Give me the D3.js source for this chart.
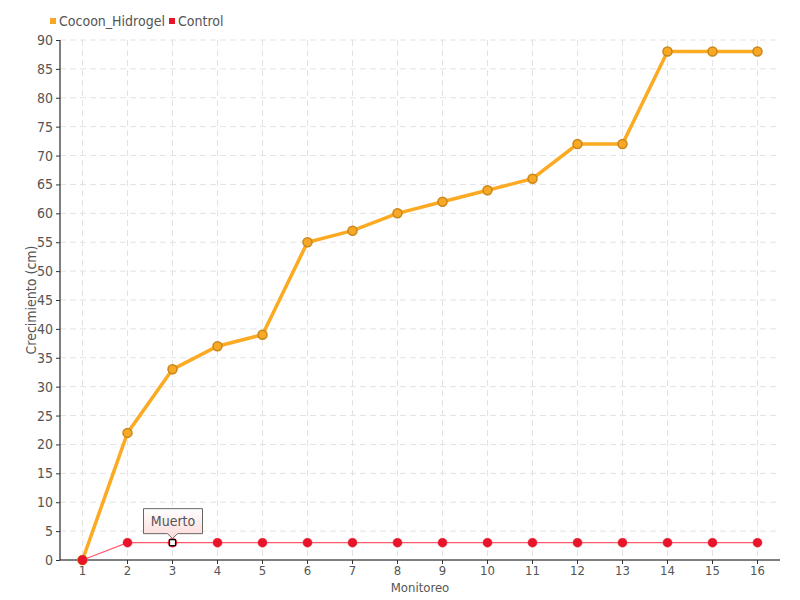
<!DOCTYPE html>
<html><head><meta charset="utf-8">
<script src="https://cdn.jsdelivr.net/npm/d3@7"></script>
<style>
body{margin:0;background:#fff;}
text{font-family:"DejaVu Sans Condensed","DejaVu Sans",sans-serif;font-stretch:condensed;}
</style></head>
<body><svg id="c" width="800" height="600"></svg>
<script>
const categories = ["1","2","3","4","5","6","7","8","9","10","11","12","13","14","15","16"];
const cocoon = [0,22,33,37,39,55,57,60,62,64,66,72,72,88,88,88];
const control = [0,3,3,3,3,3,3,3,3,3,3,3,3,3,3,3];
const yTicks = [0,5,10,15,20,25,30,35,40,45,50,55,60,65,70,75,80,85,90];
const seriesNames = ["Cocoon_Hidrogel","Control"];
const annotation = {index:2, label:"Muerto"};

const svg = d3.select("#c");
const L=60,R=780,T=40,B=560;
const x = d3.scaleBand().domain(categories).range([L,R]);
const y = d3.scaleLinear().domain([0,90]).range([B,T]);
const cx = c => x(c)+x.bandwidth()/2;

// grid
const g = svg.append("g");
g.selectAll(".hg").data(yTicks.slice(1)).enter().append("line")
 .attr("x1",L).attr("x2",R).attr("y1",d=>y(d)).attr("y2",d=>y(d))
 .attr("stroke","#e3e3e3").attr("stroke-width",1).attr("stroke-dasharray","6,4");
g.selectAll(".vg").data(categories).enter().append("line")
 .attr("x1",d=>cx(d)).attr("x2",d=>cx(d)).attr("y1",T).attr("y2",B)
 .attr("stroke","#e3e3e3").attr("stroke-width",1).attr("stroke-dasharray","6,4");

// axes
const ya = svg.append("g").attr("transform",`translate(${L},0)`)
 .call(d3.axisLeft(y).tickValues(yTicks).tickSize(4).tickPadding(3));
ya.select(".domain").attr("stroke","#000").attr("d",`M0,${T}V${B}`);
ya.selectAll(".tick line").attr("stroke","#333");
ya.selectAll("text").attr("fill","#555").style("font-size","14px");
const xa = svg.append("g").attr("transform",`translate(0,${B})`)
 .call(d3.axisBottom(x).tickSize(4).tickPadding(2));
xa.select(".domain").attr("stroke","#000").attr("d",`M${L},0H${R}`);
xa.selectAll(".tick line").attr("stroke","#333");
xa.selectAll("text").attr("fill","#555").style("font-size","13px");

svg.append("text").attr("x",(L+R)/2).attr("y",592).attr("text-anchor","middle")
 .attr("fill","#555").style("font-size","13px").text("Monitoreo");
svg.append("text").attr("transform",`translate(36,${(T+B)/2}) rotate(-90)`).attr("text-anchor","middle")
 .attr("fill","#555").style("font-size","14px").text("Crecimiento (cm)");

// lines
const line = d3.line().x((d,i)=>cx(categories[i])).y(d=>y(d));
svg.append("path").datum(cocoon).attr("d",line).attr("fill","none")
 .attr("stroke","#fbaa22").attr("stroke-width",3.5);
svg.selectAll(".pc").data(cocoon).enter().append("circle")
 .attr("cx",(d,i)=>cx(categories[i])).attr("cy",d=>y(d)).attr("r",4.5)
 .attr("fill","#f7a925").attr("stroke","#c8861a").attr("stroke-width",1.5);
svg.append("path").datum(control).attr("d",line).attr("fill","none")
 .attr("stroke","#ff5a6a").attr("stroke-width",1.2);
svg.selectAll(".pr").data(control).enter().append("circle")
 .attr("cx",(d,i)=>cx(categories[i])).attr("cy",d=>y(d)).attr("r",4.5)
 .attr("fill","#e8142a").attr("stroke","#e8142a").attr("stroke-width",0.5);

// annotation
const ax = cx(categories[annotation.index]), ay = y(control[annotation.index]);
svg.append("rect").attr("x",ax-3).attr("y",ay-3).attr("width",6).attr("height",6)
 .attr("fill","#fff").attr("stroke","#000").attr("stroke-width",1.2);
const defs = svg.append("defs");
const gr = defs.append("linearGradient").attr("id","tg").attr("x1",0).attr("y1",0).attr("x2",0).attr("y2",1);
gr.append("stop").attr("offset","0%").attr("stop-color","#ffffff");
gr.append("stop").attr("offset","100%").attr("stop-color","#fcd8d8");
const bw=59,bh=25,bx=ax-29,by=ay-34;
svg.append("path").attr("d",`M${bx},${by}H${bx+bw}V${by+bh}H${ax+5}L${ax},${by+bh+5}L${ax-5},${by+bh}H${bx}Z`)
 .attr("fill","url(#tg)").attr("stroke","#666").attr("stroke-width",1);
svg.append("text").attr("x",bx+bw/2).attr("y",by+17).attr("text-anchor","middle")
 .attr("fill","#555").style("font-size","14px").text(annotation.label);

// legend
const lg = svg.append("g");
const colors=["#f7a925","#e8142a"];
const lx=[50,169];
seriesNames.forEach((n,i)=>{
  lg.append("rect").attr("x",lx[i]).attr("y",18).attr("width",6).attr("height",6).attr("fill",colors[i]);
  lg.append("text").attr("x",lx[i]+9).attr("y",26).attr("fill","#555").style("font-size","14px").text(n);
});
</script></body></html>
